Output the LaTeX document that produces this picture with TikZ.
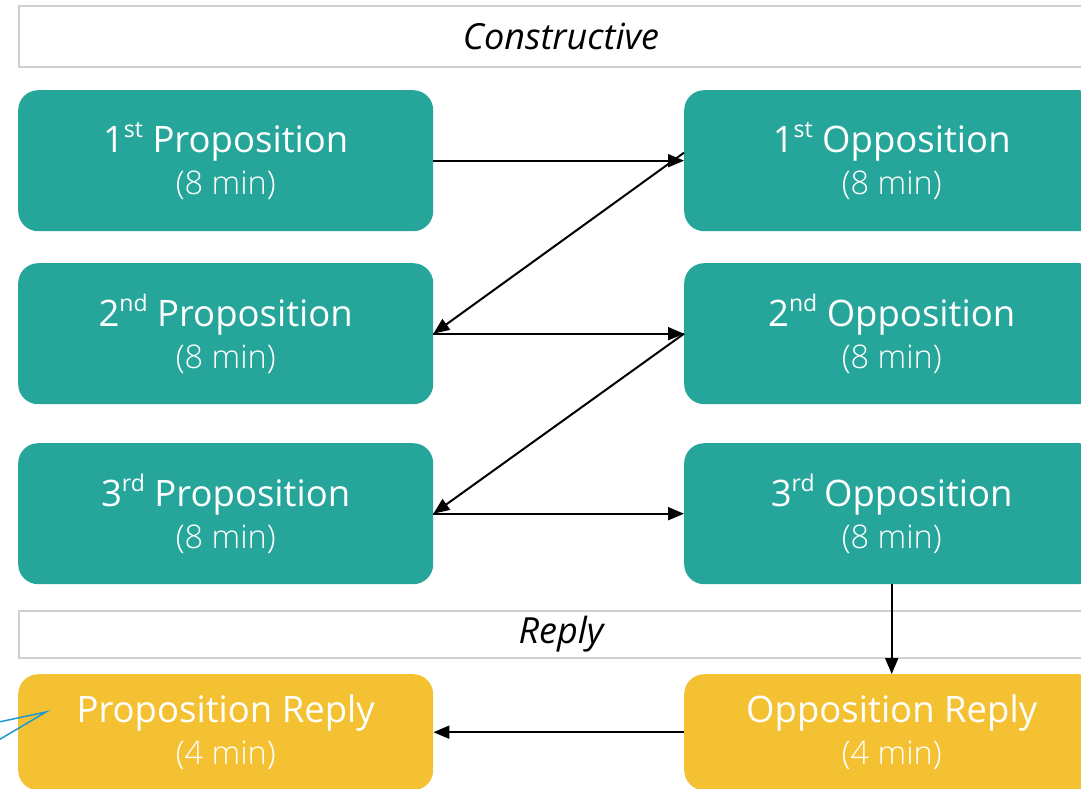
\documentclass[tikz,border=0pt]{standalone}
\usepackage{fontspec}
\setmainfont{Open Sans}
\newfontfamily\lightfont{Open Sans Light}
\usetikzlibrary{arrows.meta}
\definecolor{tealbox}{HTML}{26A69A}
\definecolor{goldbox}{HTML}{F4C132}
\definecolor{bandline}{HTML}{D0D0D0}
\definecolor{calloutblue}{HTML}{1B9AD6}
\newcommand\suptxt[1]{\raisebox{0.4em}{\fontsize{23}{23}\selectfont #1}}
\newcommand\boxtime[1]{{\lightfont\fontsize{32.5}{42}\selectfont #1}}
\tikzset{
  box/.style={rounded corners=20pt, minimum width=415pt, inner sep=0pt, text=white,
    align=center, anchor=north west, font=\fontsize{36.5}{42}\selectfont},
  conbox/.style={box, fill=tealbox, minimum height=141pt},
  repbox/.style={box, fill=goldbox, minimum height=116pt},
  bandbox/.style={draw=bandline, line width=2pt, fill=white, minimum width=1084pt,
    anchor=north west, inner sep=0pt, font=\itshape\fontsize{36}{40}\selectfont},
  conn/.style={line width=2pt, -{Triangle[length=16pt,width=13pt]}},
  callout/.style={draw=calloutblue, line width=1.5pt, line join=miter},
}
\begin{document}
\begin{tikzpicture}[x=1pt,y=-1pt]
\useasboundingbox (0,0) rectangle (1081,789);
\clip (0,0) rectangle (1081,789);
\node[bandbox, minimum height=61pt] (cband) at (18,5) {Constructive};
\node[bandbox, minimum height=47pt] (rband) at (18,610) {Reply};

\node[conbox] (p1) at (18,90) {1\suptxt{st} Proposition\\\boxtime{(8 min)}};
\node[conbox] (p2) at (18,263) {2\suptxt{nd} Proposition\\\boxtime{(8 min)}};
\node[conbox] (p3) at (18,443) {3\suptxt{rd} Proposition\\\boxtime{(8 min)}};
\node[conbox] (o1) at (684,90) {1\suptxt{st} Opposition\\\boxtime{(8 min)}};
\node[conbox] (o2) at (684,263) {2\suptxt{nd} Opposition\\\boxtime{(8 min)}};
\node[conbox] (o3) at (684,443) {3\suptxt{rd} Opposition\\\boxtime{(8 min)}};
\node[repbox] (pr) at (18,674) {Proposition Reply\\\boxtime{(4 min)}};
\node[repbox] (orr) at (684,674) {Opposition Reply\\\boxtime{(4 min)}};

\draw[conn] (p1.east) -- (o1.west);
\draw[conn] ([yshift=8pt]o1.west) -- (p2.east);
\draw[conn] (p2.east) -- (o2.west);
\draw[conn] (o2.west) -- (p3.east);
\draw[conn] (p3.east) -- (o3.west);
\draw[conn] (o3.south) -- (orr.north);
\draw[conn] (orr.west) -- (pr.east);

\coordinate (ctip) at (46,712);
\coordinate (ctop) at (-20,726);
\coordinate (cbot) at (-20,751);
\draw[callout] (ctop) -- (ctip) -- (cbot);
\end{tikzpicture}
\end{document}
